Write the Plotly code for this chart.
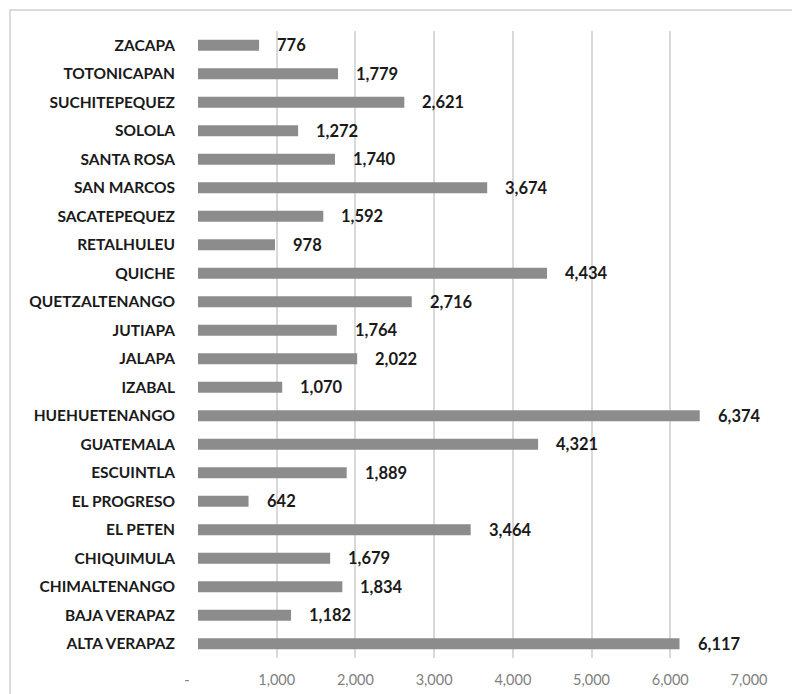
import plotly.graph_objects as go

departments = ["ALTA VERAPAZ", "BAJA VERAPAZ", "CHIMALTENANGO", "CHIQUIMULA", "EL PETEN",
               "EL PROGRESO", "ESCUINTLA", "GUATEMALA", "HUEHUETENANGO", "IZABAL", "JALAPA",
               "JUTIAPA", "QUETZALTENANGO", "QUICHE", "RETALHULEU", "SACATEPEQUEZ", "SAN MARCOS",
               "SANTA ROSA", "SOLOLA", "SUCHITEPEQUEZ", "TOTONICAPAN", "ZACAPA"]
values = [6117, 1182, 1834, 1679, 3464, 642, 1889, 4321, 6374, 1070, 2022,
          1764, 2716, 4434, 978, 1592, 3674, 1740, 1272, 2621, 1779, 776]
tick_vals = [0, 1000, 2000, 3000, 4000, 5000, 6000, 7000]
tick_text = ["-      ", "1,000", "2,000", "3,000", "4,000", "5,000", "6,000", "7,000"]

FONT = "Lato, 'Open Sans', sans-serif"

fig = go.Figure(go.Bar(
    x=values, y=departments, orientation="h",
    marker=dict(color="#8c8c8c", line=dict(width=0)),
    width=0.38, hoverinfo="x+y",
))

for d, v in zip(departments, values):
    fig.add_annotation(x=v, y=d, text=f"<b>{v:,}</b>", showarrow=False,
                       xanchor="left", yanchor="middle", xshift=16, yshift=0,
                       font=dict(family=FONT, size=16.5, color="#1a1a1a"))

L, R, T, B = 198, 43, 31, 36
PW, PH = 792 - L - R, 694 - T - B
fig.add_shape(type="rect", xref="paper", yref="paper",
              x0=(10 - L) / PW, x1=(805 - L) / PW,
              y0=(694 - B - 710) / PH, y1=(694 - B - 10) / PH,
              line=dict(color="#d0d0d0", width=1.5), fillcolor="rgba(0,0,0,0)", layer="below")

fig.update_layout(
    width=792, height=694,
    margin=dict(l=L, r=R, t=T, b=B, autoexpand=False),
    paper_bgcolor="white", plot_bgcolor="white",
    showlegend=False,
    font=dict(family=FONT),
    xaxis=dict(range=[0, 7000], tickvals=tick_vals, ticktext=tick_text, automargin=False,
               showgrid=True, gridcolor="#d9d9d9", gridwidth=1.5,
               zeroline=False, showline=False, ticks="", ticklabelstandoff=11,
               tickfont=dict(family=FONT, size=14.5, color="#808080"), fixedrange=True),
    yaxis=dict(categoryorder="array", categoryarray=departments, automargin=False,
               range=[-0.5, 21.5], showgrid=False, zeroline=False, ticks="",
               ticklabelstandoff=22,
               tickfont=dict(family=FONT, size=15.5, color="#1a1a1a", weight="bold"),
               fixedrange=True),
)

fig.write_html("out.html", config={"displayModeBar": False},
               post_script="document.body.style.margin='0';")
